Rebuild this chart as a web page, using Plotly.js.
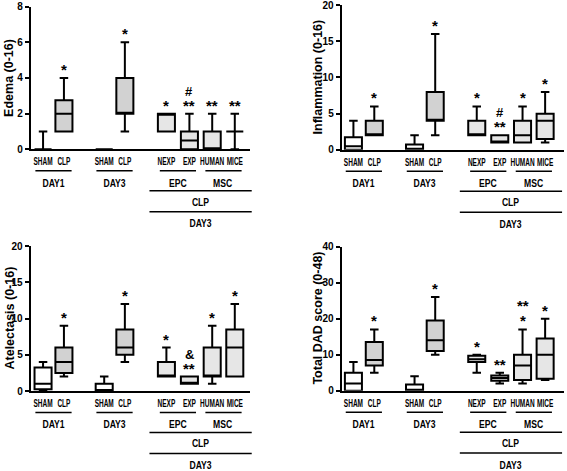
<!DOCTYPE html>
<html><head><meta charset="utf-8">
<script src="https://cdn.plot.ly/plotly-3.0.1.min.js"></script>
<style>html,body{margin:0;padding:0;background:#fff}#chart{width:567px;height:471px}</style>
</head><body><div id="chart"></div>
<script>
// ---------- data ----------
const boxLabels = ['SHAM', 'CLP', 'SHAM', 'CLP', 'NEXP', 'EXP', 'HUMAN', 'MICE'];
const boxKinds  = ['sham', 'clp', 'sham', 'clp', 'treat', 'treat', 'treat', 'treat'];

const edemaLow  = [0, 1, 0, 1, 1, 0, 0, 0];
const edemaQ1   = [0, 1, 0, 2, 1, 0, 0, 1];
const edemaMed  = [0, 2, 0, 2, 2, 0.5, 0, 1];
const edemaQ3   = [0, 2.75, 0, 4, 2, 1, 1, 1];
const edemaHigh = [1, 4, 0, 6, 2, 2, 2, 2];
const edemaSig  = ['', '*', '', '*', '*', '**', '**', '**'];
const edemaSig2 = ['', '', '', '', '', '#', '', ''];

const inflLow  = [0, 2, 0, 2, 2, 1, 1, 1];
const inflQ1   = [0, 2, 0, 4, 2, 1, 1, 1.5];
const inflMed  = [0.5, 2, 0, 4, 2, 1, 2, 4];
const inflQ3   = [1.75, 4, 0.75, 8, 4, 2, 4, 5];
const inflHigh = [4, 6, 2, 16, 6, 2, 6, 8];
const inflSig  = ['', '*', '', '*', '*', '**', '*', '*'];
const inflSig2 = ['', '', '', '', '', '#', '', ''];

const atelLow  = [0, 2, 0, 4, 2, 1, 1, 2];
const atelQ1   = [0.25, 2.5, 0, 5, 2, 1, 2, 2];
const atelMed  = [1, 4, 0, 6, 2, 1, 2, 6];
const atelQ3   = [3.25, 6, 1, 8.5, 4, 2, 6, 8.5];
const atelHigh = [4, 9, 2, 12, 6, 2, 9, 12];
const atelSig  = ['', '*', '', '*', '*', '**', '*', '*'];
const atelSig2 = ['', '', '', '', '', '&', '', ''];

const dadLow  = [0, 5, 0, 10, 5, 2, 2, 3];
const dadQ1   = [0, 7, 0, 11, 8, 2.75, 3, 3.3];
const dadMed  = [2, 8.5, 0, 14, 8.7, 3.5, 7, 10];
const dadQ3   = [5, 13.5, 1.75, 19.5, 9.7, 4.25, 10, 14.5];
const dadHigh = [8, 17, 4, 26, 10, 5, 17, 20];
const dadSig  = ['', '*', '', '*', '*', '**', '*', '*'];
const dadSig2 = ['', '', '', '', '', '', '**', ''];

const groupLabels  = ['DAY1', 'DAY3', 'EPC', 'MSC'];
const groupMembers = [[0, 1], [2, 3], [4, 5], [6, 7]];
const outerLabels  = ['CLP', 'DAY3'];
const outerMembers = [4, 5, 6, 7];

// ---------- layout / style ----------
const W = 567, H = 471;
const positions = [0, 0.98, 2.87, 3.84, 5.79, 6.87, 7.94, 9.0];
const fills = {sham: '#ffffff', clp: '#d2d2d2', treat: '#e6e6e6'};
const FONT = '"Liberation Sans Narrow", "Arial Narrow", "Liberation Sans", Arial, sans-serif';

const panels = [
  {title: 'Edema (0-16)', lo: edemaLow, q1: edemaQ1, med: edemaMed, q3: edemaQ3, hi: edemaHigh, sig: edemaSig, sig2: edemaSig2,
   ymax: 8, dtick: 2, xdom: [30.7 / W, 249.7 / W], ydom: [1 - 149.3 / H, 1 - 6.5 / H], xr: [-0.58, 9.7], titleX: 9},
  {title: 'Inflammation (0-16)', lo: inflLow, q1: inflQ1, med: inflMed, q3: inflQ3, hi: inflHigh, sig: inflSig, sig2: inflSig2,
   ymax: 20, dtick: 5, xdom: [341.7 / W, 564.3 / W], ydom: [1 - 149.8 / H, 1 - 5 / H], xr: [-0.55, 9.9], titleX: 318},
  {title: 'Atelectasis (0-16)', lo: atelLow, q1: atelQ1, med: atelMed, q3: atelQ3, hi: atelHigh, sig: atelSig, sig2: atelSig2,
   ymax: 20, dtick: 5, xdom: [30.7 / W, 249.7 / W], ydom: [1 - 391 / H, 1 - 246 / H], xr: [-0.58, 9.7], titleX: 9},
  {title: 'Total DAD score (0-48)', lo: dadLow, q1: dadQ1, med: dadMed, q3: dadQ3, hi: dadHigh, sig: dadSig, sig2: dadSig2,
   ymax: 40, dtick: 10, xdom: [341.7 / W, 564.3 / W], ydom: [1 - 390.7 / H, 1 - 246.5 / H], xr: [-0.55, 9.9], titleX: 318}
];

const traces = [];
const annotations = [];
const shapes = [];
const layout = {
  width: W, height: H, margin: {l: 0, r: 0, t: 0, b: 0},
  paper_bgcolor: '#fff', plot_bgcolor: 'rgba(0,0,0,0)',
  showlegend: false, boxmode: 'overlay',
  font: {family: FONT, color: '#000', weight: 'bold'},
  annotations: annotations, shapes: shapes
};

function xPaper(p, u) { return p.xdom[0] + (u - p.xr[0]) / (p.xr[1] - p.xr[0]) * (p.xdom[1] - p.xdom[0]); }
function yBelow(p, px) { return p.ydom[0] - px / H; }

panels.forEach((p, k) => {
  const n = k === 0 ? '' : String(k + 1);
  const xa = 'x' + n, ya = 'y' + n;
  const yTicks = [];
  for (let v = 0; v <= p.ymax + 1e-9; v += p.dtick) yTicks.push(v);
  layout['xaxis' + n] = {
    domain: p.xdom, range: p.xr, anchor: ya, showline: true, linewidth: 2, linecolor: '#000',
    ticks: '', tickmode: 'array', tickvals: positions, ticktext: boxLabels, tickangle: 0,
    tickfont: {size: 10, family: FONT, weight: 'bold'}, ticklabelstandoff: 2, ticklabeloverflow: 'allow',
    showgrid: false, zeroline: false, fixedrange: true
  };
  layout['yaxis' + n] = {
    domain: p.ydom, range: [0, p.ymax * 1.001], anchor: xa, showline: true, linewidth: 2, linecolor: '#000',
    ticks: 'outside', ticklen: 4, tickwidth: 2, tickcolor: '#000', tickmode: 'array', tickvals: yTicks,
    ticktext: yTicks.map(String),
    tickfont: {size: 10, family: FONT, weight: 'bold'}, ticklabeloverflow: 'allow',
    showgrid: false, zeroline: false, fixedrange: true
  };
  boxLabels.forEach((lab, i) => {
    traces.push({
      type: 'box', xaxis: xa, yaxis: ya, name: lab,
      x: [positions[i]], q1: [p.q1[i]], median: [p.med[i]], q3: [p.q3[i]],
      lowerfence: [p.lo[i]], upperfence: [p.hi[i]],
      fillcolor: fills[boxKinds[i]], line: {color: '#000', width: 2},
      width: 0.8, whiskerwidth: 0.5, boxpoints: false, hoverinfo: 'skip'
    });
    if (p.sig[i]) annotations.push({xref: xa, yref: ya, x: positions[i], y: p.hi[i], text: p.sig[i],
      showarrow: false, yanchor: 'bottom', yshift: -2, font: {size: 15, family: FONT, weight: 'bold'}});
    if (p.sig2[i]) annotations.push({xref: xa, yref: ya, x: positions[i], y: p.hi[i], text: p.sig2[i],
      showarrow: false, yanchor: 'bottom', yshift: 13, font: {size: p.sig2[i] === '**' ? 15 : 13, family: FONT, weight: 'bold'}});
  });
  // y title
  annotations.push({xref: 'paper', yref: 'paper', x: p.titleX / W, y: (p.ydom[0] + p.ydom[1]) / 2,
    text: p.title, textangle: -90, showarrow: false, xanchor: 'center', yanchor: 'middle',
    font: {size: 12.5, family: FONT, weight: 'bold'}});
  // first-level group brackets
  groupLabels.forEach((g, j) => {
    const m = groupMembers[j];
    const c = (positions[m[0]] + positions[m[m.length - 1]]) / 2;
    shapes.push({type: 'line', xref: 'paper', yref: 'paper', x0: xPaper(p, c - 0.85), x1: xPaper(p, c + 0.85),
      y0: yBelow(p, 21.5), y1: yBelow(p, 21.5), line: {color: '#000', width: 1.5}});
    annotations.push({xref: 'paper', yref: 'paper', x: xPaper(p, c), y: yBelow(p, 33.2), text: g,
      showarrow: false, xanchor: 'center', yanchor: 'middle', font: {size: 10.5, family: FONT, weight: 'bold'}});
  });
  // outer brackets
  const oc = (positions[outerMembers[0]] + positions[outerMembers[outerMembers.length - 1]]) / 2;
  [[41.5, 52.4], [62.4, 74]].forEach((off, j) => {
    shapes.push({type: 'line', xref: 'paper', yref: 'paper', x0: xPaper(p, oc - 2.4), x1: xPaper(p, oc + 2.4),
      y0: yBelow(p, off[0]), y1: yBelow(p, off[0]), line: {color: '#000', width: 1.5}});
    annotations.push({xref: 'paper', yref: 'paper', x: xPaper(p, oc), y: yBelow(p, off[1]), text: outerLabels[j],
      showarrow: false, xanchor: 'center', yanchor: 'middle', font: {size: 10.5, family: FONT, weight: 'bold'}});
  });
});

// condense the labels, as in the narrow typeface of the original
function condense(nodes, f) {
  nodes.forEach(t => {
    const L = t.getComputedTextLength();
    if (L > 0) { t.setAttribute('textLength', (L * f).toFixed(2)); t.setAttribute('lengthAdjust', 'spacingAndGlyphs'); }
  });
}
Plotly.newPlot('chart', traces, layout, {displayModeBar: false, staticPlot: true}).then(() => {
  const tickTexts = [];
  ['xtick', 'x2tick', 'x3tick', 'x4tick'].forEach(c => document.querySelectorAll('.' + c + ' text').forEach(t => tickTexts.push(t)));
  condense(tickTexts, 0.65);
  const groupTexts = [];
  document.querySelectorAll('.annotation-text').forEach(t => {
    const s = t.textContent;
    if (groupLabels.includes(s) || outerLabels.includes(s)) groupTexts.push(t);
  });
  condense(groupTexts, 0.82);
});
</script></body></html>
